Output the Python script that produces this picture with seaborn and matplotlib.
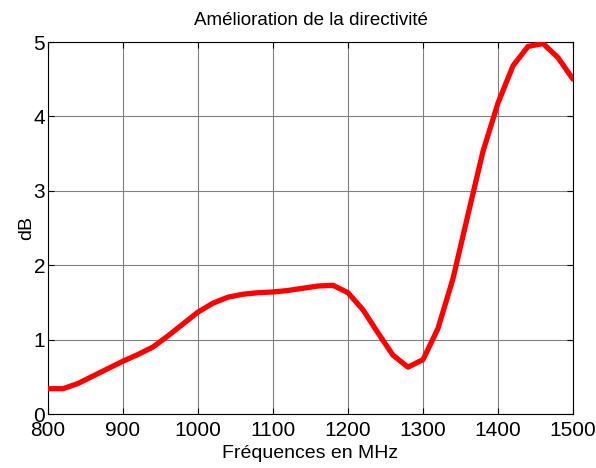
import matplotlib
matplotlib.use("Agg")
import matplotlib.pyplot as plt
import seaborn as sns
import pandas as pd

freq = [800, 820, 840, 860, 880, 900, 920, 940, 960, 980, 1000, 1020, 1040, 1060,
        1080, 1100, 1120, 1140, 1160, 1180, 1200, 1220, 1240, 1260, 1280, 1300,
        1320, 1340, 1360, 1380, 1400, 1420, 1440, 1460, 1480, 1500]
db = [0.34, 0.34, 0.41, 0.51, 0.61, 0.71, 0.80, 0.90, 1.05, 1.21, 1.37, 1.49, 1.57, 1.61,
      1.63, 1.64, 1.66, 1.69, 1.72, 1.73, 1.63, 1.40, 1.09, 0.79, 0.63, 0.73,
      1.15, 1.82, 2.68, 3.53, 4.18, 4.68, 4.94, 4.98, 4.79, 4.50]
xticks = [800, 900, 1000, 1100, 1200, 1300, 1400, 1500]
yticks = [0, 1, 2, 3, 4, 5]

df = pd.DataFrame({"freq": freq, "db": db})

sns.set_style("white")
plt.rcParams['font.family'] = ['Liberation Sans', 'DejaVu Sans']
plt.rcParams['text.color'] = 'black'
plt.rcParams['axes.labelcolor'] = 'black'

fig = plt.figure(figsize=(5.96, 4.68), dpi=100)
ax = fig.add_axes([48/596, 54/468, 525/596, 372/468])
sns.lineplot(data=df, x="freq", y="db", ax=ax, color="#ff0000", linewidth=3.8, zorder=3)

ax.set_xlim(800, 1500)
ax.set_ylim(0, 5)
ax.set_xticks(xticks)
ax.set_yticks(yticks)
ax.grid(True, color="#808080", linewidth=0.8, linestyle="-")
ax.tick_params(direction="in", length=4, width=0.8, labelsize=15, top=True, right=True,
               bottom=True, left=True, colors="black")
ax.tick_params(axis="x", pad=5)
ax.tick_params(axis="y", pad=2)
for s in ax.spines.values():
    s.set_color("black")
    s.set_linewidth(0.8)
    s.set_visible(True)
ax.set_xlabel("Fréquences en MHz", fontsize=14, labelpad=4, color="black")
ax.set_ylabel("dB", fontsize=14, labelpad=-1, color="black")
ax.set_title("Amélioration de la directivité", fontsize=13.5, pad=12, color="black")

fig.savefig("out.png", dpi=100)
